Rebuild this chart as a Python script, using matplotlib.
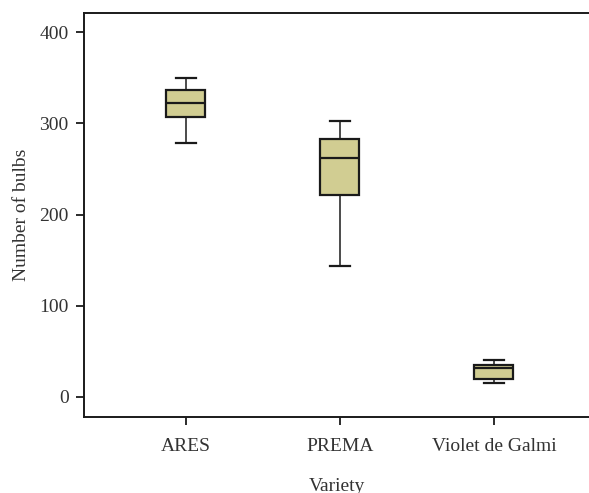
import matplotlib
matplotlib.use("Agg")
import matplotlib.pyplot as plt

# Values
varieties = ["ARES", "PREMA", "Violet de Galmi"]
whisker_low = [278, 144, 15]
q1 = [307, 221, 20]
median = [322, 262, 32]
q3 = [337, 283, 35]
whisker_high = [350, 303, 40]
y_ticks = [0, 100, 200, 300, 400]

plt.rcParams['font.family'] = ['Liberation Serif', 'DejaVu Serif']
plt.rcParams['font.size'] = 14

fig = plt.figure(figsize=(5.89, 4.93), dpi=100)
ax = fig.add_axes([84 / 589, 76 / 493, 505 / 589, 404 / 493])

stats = []
for i, name in enumerate(varieties):
    stats.append({
        'label': name,
        'whislo': whisker_low[i],
        'q1': q1[i],
        'med': median[i],
        'q3': q3[i],
        'whishi': whisker_high[i],
        'fliers': [],
    })

ax.bxp(stats, positions=[1, 2, 3], widths=0.253, patch_artist=True,
       boxprops=dict(facecolor='#d1cd92', edgecolor='#1a1a1a', linewidth=1.6),
       medianprops=dict(color='#1a1a1a', linewidth=1.6),
       whiskerprops=dict(color='#1a1a1a', linewidth=1.1),
       capprops=dict(color='#1a1a1a', linewidth=1.6),
       capwidths=0.125)

ax.set_xlim(0.338, 3.617)
ax.set_ylim(-22, 421)
ax.set_yticks(y_ticks)
ax.set_xticks([1, 2, 3])
ax.set_xticklabels(varieties)

ax.spines['right'].set_visible(False)
for s in ['left', 'top', 'bottom']:
    ax.spines[s].set_linewidth(1.4)
    ax.spines[s].set_color('#1a1a1a')

ax.tick_params(axis='y', length=6, width=1.3, pad=5, colors='#1a1a1a')
ax.tick_params(axis='x', length=6, width=1.3, pad=9, colors='#1a1a1a')
for lbl in ax.get_xticklabels() + ax.get_yticklabels():
    lbl.set_color('#333333')

ax.set_ylabel("Number of bulbs", color='#333333', labelpad=7)
# the reference itself is cut at the bottom edge through this label
ax.set_xlabel("Variety", color='#333333', labelpad=17)

fig.savefig("out.png", dpi=100)
